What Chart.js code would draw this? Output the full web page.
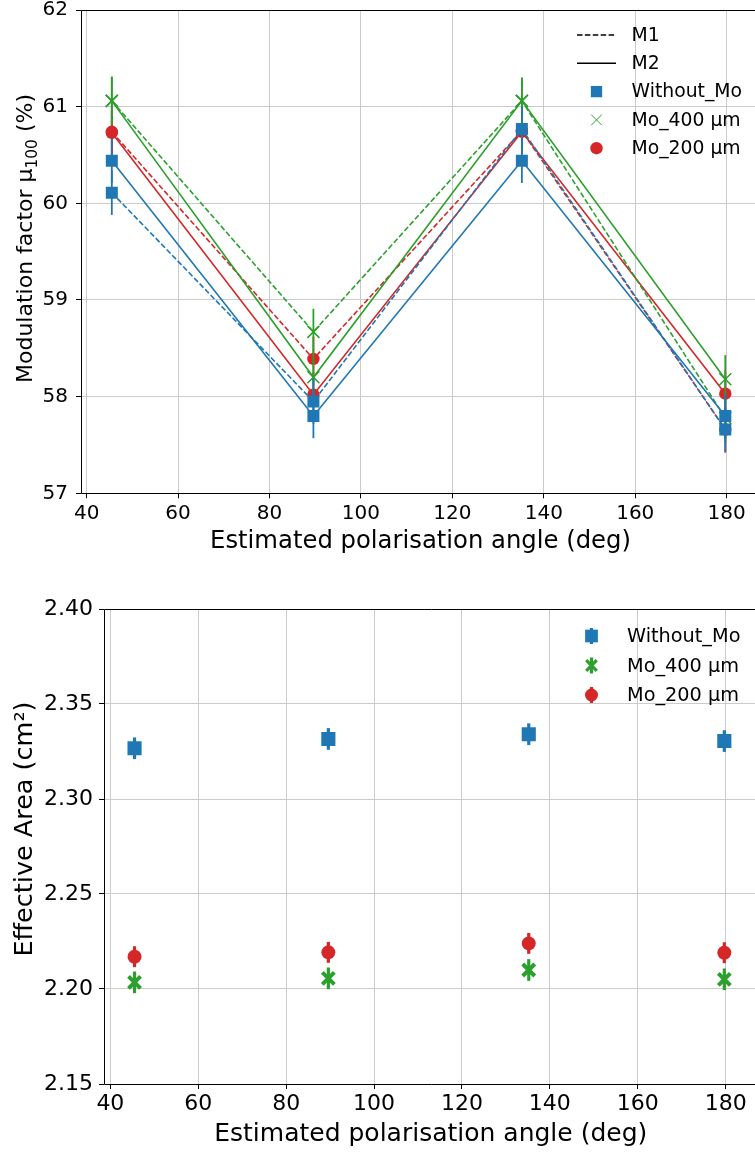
<!DOCTYPE html>
<html><head><meta charset="utf-8">
<script src="https://cdn.jsdelivr.net/npm/chart.js@4.4.0/dist/chart.umd.min.js"></script>
<style>
html,body{margin:0;padding:0;width:755px;height:1153px;overflow:hidden;background:#fff}
#c1{position:absolute;left:0;top:0}
#c2{position:absolute;left:0;top:570px}
</style></head><body>
<canvas id="c1" width="770" height="570"></canvas>
<canvas id="c2" width="770" height="583"></canvas>
<script>
// ---------- data ----------
const angles = [45.5, 89.6, 135.2, 179.7];
const materials = ['Without_Mo', 'Mo_400 µm', 'Mo_200 µm'];
const methods = ['M1', 'M2'];

// Modulation factor (%)
const muWithoutMoM1 = [60.11, 57.95, 60.77, 57.66];
const muWithoutMoM2 = [60.44, 57.80, 60.44, 57.80];
const muMo400M1 = [61.06, 58.67, 61.06, 57.78];
const muMo400M2 = [61.06, 58.20, 61.06, 58.18];
const muMo200M1 = [60.74, 58.39, 60.75, 57.66];
const muMo200M2 = [60.73, 58.02, 60.74, 58.03];
const muErrWithoutMo = [0.23, 0.23, 0.23, 0.23];
const muErrMo400 = [0.25, 0.24, 0.24, 0.25];
const muErrMo200 = [0.23, 0.23, 0.23, 0.24];

// Effective area (cm²)
const areaWithoutMo = [2.3267, 2.3316, 2.3341, 2.3305];
const areaMo400 = [2.2035, 2.2056, 2.2100, 2.2051];
const areaMo200 = [2.2170, 2.2193, 2.2240, 2.2191];
const areaErrWithoutMo = [0.0057, 0.0057, 0.0057, 0.0057];
const areaErrMo400 = [0.0057, 0.0057, 0.0057, 0.0057];
const areaErrMo200 = [0.0055, 0.0055, 0.0055, 0.0055];

const xTicks = [40, 60, 80, 100, 120, 140, 160, 180];
const muTicks = [57, 58, 59, 60, 61, 62];
const areaTicks = [2.15, 2.20, 2.25, 2.30, 2.35, 2.40];

const xTitle = 'Estimated polarisation angle (deg)';
const muTitleParts = ['Modulation factor μ', '100', ' (%)'];
const areaTitleParts = ['Effective Area (cm²)', '', ''];

// ---------- styles ----------
const BLUE = '#1f77b4', GREEN = '#2ca02c', RED = '#d62728';
const FONT = "'DejaVu Sans', sans-serif";
const matColors = [BLUE, GREEN, RED];
const matStyles = ['rect', 'crossRot', 'circle'];
const DASH = [5.5, 2.4];

function pts(ys) { return angles.map((x, i) => ({x: x, y: ys[i]})); }

// ---------- plugins ----------
const errorBarPlugin = {
  id: 'errorBars',
  beforeDatasetDraw(chart, args) {
    const ds = chart.data.datasets[args.index];
    if (!ds.errors) return;
    const xs = chart.scales.x, ys = chart.scales.y, ctx = chart.ctx;
    ctx.save();
    ctx.strokeStyle = ds.errColor;
    ctx.lineWidth = ds.errWidth;
    ctx.setLineDash([]);
    ds.data.forEach((p, i) => {
      const px = xs.getPixelForValue(p.x);
      ctx.beginPath();
      ctx.moveTo(px, ys.getPixelForValue(p.y - ds.errors[i]));
      ctx.lineTo(px, ys.getPixelForValue(p.y + ds.errors[i]));
      ctx.stroke();
    });
    ctx.restore();
  }
};

// spines: left, top, bottom (the right spine lies outside the picture)
const framePlugin = {
  id: 'frame',
  afterDraw(chart) {
    const a = chart.chartArea, ctx = chart.ctx;
    const l = Math.round(a.left) + 0.5, t = Math.round(a.top) + 0.5, b = Math.round(a.bottom) + 0.5, r = Math.round(a.right) + 0.5;
    ctx.save();
    ctx.strokeStyle = '#000';
    ctx.lineWidth = 1;
    ctx.setLineDash([]);
    ctx.beginPath();
    ctx.moveTo(r, t); ctx.lineTo(l, t); ctx.lineTo(l, b); ctx.lineTo(r, b);
    ctx.stroke();
    ctx.restore();
  }
};

const customLegend = {
  id: 'customLegend',
  afterDraw(chart, args, opts) {
    const ctx = chart.ctx;
    ctx.save();
    ctx.font = opts.fontSize + 'px ' + FONT;
    ctx.textBaseline = 'middle';
    ctx.textAlign = 'left';
    opts.items.forEach((it, i) => {
      const y = opts.y0 + i * opts.dy;
      ctx.save();
      if (it.type === 'line') {
        ctx.strokeStyle = '#000';
        ctx.lineWidth = 1.5;
        ctx.setLineDash(it.dash);
        ctx.beginPath();
        ctx.moveTo(opts.hx - opts.hw / 2, y);
        ctx.lineTo(opts.hx + opts.hw / 2, y);
        ctx.stroke();
      } else {
        ctx.setLineDash([]);
        if (it.err) {
          ctx.strokeStyle = it.color;
          ctx.lineWidth = it.errWidth;
          ctx.beginPath();
          ctx.moveTo(opts.hx, y - it.err);
          ctx.lineTo(opts.hx, y + it.err);
          ctx.stroke();
        }
        ctx.fillStyle = it.color;
        ctx.strokeStyle = it.color;
        Chart.helpers.drawPoint(ctx, {pointStyle: it.style, radius: it.radius, borderWidth: it.bw, rotation: 0}, opts.hx, y);
      }
      ctx.restore();
      ctx.fillStyle = '#000';
      ctx.fillText(it.label, opts.tx, y + 1);
    });
    ctx.restore();
  }
};

// rotated y title with an optional true subscript (as matplotlib mathtext)
const yTitlePlugin = {
  id: 'yTitle',
  afterDraw(chart, args, opts) {
    if (!opts.parts) return;
    const ctx = chart.ctx;
    const big = opts.size + 'px ' + FONT, small = (opts.size * 0.7) + 'px ' + FONT;
    ctx.save();
    ctx.font = big; const w0 = ctx.measureText(opts.parts[0]).width; const w2 = ctx.measureText(opts.parts[2]).width;
    ctx.font = small; const w1 = ctx.measureText(opts.parts[1]).width;
    const total = w0 + w1 + w2;
    ctx.translate(opts.x, opts.cy);
    ctx.rotate(-Math.PI / 2);
    ctx.fillStyle = '#000';
    ctx.textBaseline = 'alphabetic';
    ctx.textAlign = 'left';
    const base = opts.size * 0.36;
    let x = -total / 2;
    ctx.font = big; ctx.fillText(opts.parts[0], x, base); x += w0;
    ctx.font = small; ctx.fillText(opts.parts[1], x, base + opts.size * 0.2); x += w1;
    ctx.font = big; ctx.fillText(opts.parts[2], x, base);
    ctx.restore();
  }
};

function ticksFrom(arr) { return s => { s.ticks = arr.map(v => ({value: v})); }; }
function fitY(w) { return s => { s.width = w; s.paddingTop = 0; s.paddingBottom = 0; }; }
function fitX(h) { return s => { s.height = h; s.paddingLeft = 0; s.paddingRight = 0; }; }

// ---------- top chart ----------
const topSeries = [
  {ys: muWithoutMoM1, err: muErrWithoutMo, m: 0, meth: 0},
  {ys: muWithoutMoM2, err: muErrWithoutMo, m: 0, meth: 1},
  {ys: muMo400M1, err: muErrMo400, m: 1, meth: 0},
  {ys: muMo400M2, err: muErrMo400, m: 1, meth: 1},
  {ys: muMo200M1, err: muErrMo200, m: 2, meth: 0},
  {ys: muMo200M2, err: muErrMo200, m: 2, meth: 1}
];
const topMarkerRadius = [8.5, 8.5, 6.2];

new Chart(document.getElementById('c1'), {
  type: 'scatter',
  data: {
    datasets: topSeries.map(s => ({
      label: materials[s.m] + ' ' + methods[s.meth],
      data: pts(s.ys),
      showLine: true,
      borderColor: matColors[s.m],
      backgroundColor: matColors[s.m],
      borderWidth: 1.6,
      borderDash: s.meth === 0 ? DASH : [],
      pointStyle: matStyles[s.m],
      pointRadius: topMarkerRadius[s.m],
      pointBorderWidth: s.m === 1 ? 1.5 : 0,
      pointBackgroundColor: matColors[s.m],
      pointBorderColor: matColors[s.m],
      errors: s.err, errColor: matColors[s.m], errWidth: 1.8,
      tension: 0
    }))
  },
  options: {
    responsive: false, animation: false, devicePixelRatio: 1,
    layout: {padding: {top: 9.5, right: 8, left: 0, bottom: 0}},
    plugins: {
      legend: {display: false}, tooltip: {enabled: false},
      yTitle: {parts: muTitleParts, size: 22, x: 24.5, cy: 238.5},
      customLegend: {
        fontSize: 18.8, y0: 35, dy: 28.3, hx: 596.5, hw: 39, tx: 631.5,
        items: [
          {type: 'line', dash: DASH, label: methods[0]},
          {type: 'line', dash: [], label: methods[1]},
          {type: 'pt', style: 'rect', radius: 8, bw: 0, color: BLUE, label: materials[0]},
          {type: 'pt', style: 'crossRot', radius: 7.5, bw: 1.3, color: GREEN, label: materials[1]},
          {type: 'pt', style: 'circle', radius: 6.2, bw: 0, color: RED, label: materials[2]}
        ]
      }
    },
    scales: {
      x: {
        type: 'linear', min: 38.76, max: 187.29,
        afterBuildTicks: ticksFrom(xTicks),
        afterFit: fitX(76.7),
        grid: {color: '#cbcbcb', lineWidth: 1, tickColor: '#000', tickLength: 5, drawTicks: true},
        border: {display: false},
        ticks: {font: {family: FONT, size: 20}, color: '#000', padding: 3, maxRotation: 0, autoSkip: false},
        title: {display: true, text: xTitle, font: {family: FONT, size: 24.3}, color: '#000', padding: {top: 0, bottom: 14}}
      },
      y: {
        min: 57, max: 62,
        afterBuildTicks: ticksFrom(muTicks),
        afterFit: fitY(81),
        grid: {color: '#cbcbcb', lineWidth: 1, tickColor: '#000', tickLength: 5, drawTicks: true},
        border: {display: false},
        ticks: {font: {family: FONT, size: 20}, color: '#000', padding: 8, callback: v => String(v)},
        title: {display: false}
      }
    }
  },
  plugins: [errorBarPlugin, framePlugin, customLegend, yTitlePlugin]
});

// ---------- bottom chart ----------
const bottomSeries = [
  {ys: areaWithoutMo, err: areaErrWithoutMo, m: 0, r: 10, bw: 0},
  {ys: areaMo400, err: areaErrMo400, m: 1, r: 8.5, bw: 4},
  {ys: areaMo200, err: areaErrMo200, m: 2, r: 7, bw: 0}
];

new Chart(document.getElementById('c2'), {
  type: 'scatter',
  data: {
    datasets: bottomSeries.map(s => ({
      label: materials[s.m],
      data: pts(s.ys),
      showLine: false,
      backgroundColor: matColors[s.m],
      borderColor: matColors[s.m],
      pointStyle: matStyles[s.m],
      pointRadius: s.r,
      pointBorderWidth: s.bw,
      pointBackgroundColor: matColors[s.m],
      pointBorderColor: matColors[s.m],
      errors: s.err, errColor: matColors[s.m], errWidth: 3.2
    }))
  },
  options: {
    responsive: false, animation: false, devicePixelRatio: 1,
    layout: {padding: {top: 39, right: 8, left: 0, bottom: 0}},
    plugins: {
      legend: {display: false}, tooltip: {enabled: false},
      yTitle: {parts: areaTitleParts, size: 25.5, x: 22.5, cy: 259},
      customLegend: {
        fontSize: 19.3, y0: 66, dy: 29.5, hx: 591.5, hw: 0, tx: 627,
        items: [
          {type: 'pt', style: 'rect', radius: 9, bw: 0, color: BLUE, err: 8, errWidth: 3.2, label: materials[0]},
          {type: 'pt', style: 'crossRot', radius: 7.5, bw: 3.5, color: GREEN, err: 8, errWidth: 3.2, label: materials[1]},
          {type: 'pt', style: 'circle', radius: 6.5, bw: 0, color: RED, err: 8, errWidth: 3.2, label: materials[2]}
        ]
      }
    },
    scales: {
      x: {
        type: 'linear', min: 38.55, max: 187.25,
        afterBuildTicks: ticksFrom(xTicks),
        afterFit: fitX(69),
        grid: {color: '#cbcbcb', lineWidth: 1, tickColor: '#000', tickLength: 5, drawTicks: true},
        border: {display: false},
        ticks: {font: {family: FONT, size: 22}, color: '#000', padding: 2, maxRotation: 0, autoSkip: false},
        title: {display: true, text: xTitle, font: {family: FONT, size: 25}, color: '#000', padding: {top: 0, bottom: 4}}
      },
      y: {
        min: 2.15, max: 2.40,
        afterBuildTicks: ticksFrom(areaTicks),
        afterFit: fitY(104),
        grid: {color: '#cbcbcb', lineWidth: 1, tickColor: '#000', tickLength: 5, drawTicks: true},
        border: {display: false},
        ticks: {font: {family: FONT, size: 22}, color: '#000', padding: 6, callback: v => v.toFixed(2)},
        title: {display: false}
      }
    }
  },
  plugins: [errorBarPlugin, framePlugin, customLegend, yTitlePlugin]
});
</script>
</body></html>
